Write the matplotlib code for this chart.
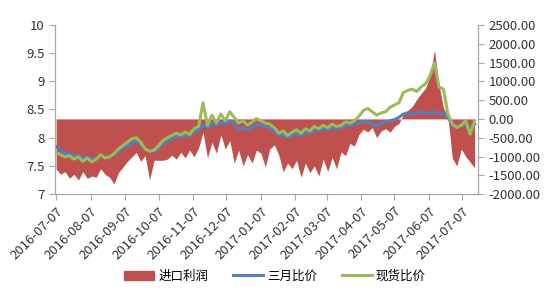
import matplotlib.pyplot as plt
import matplotlib.ticker as mticker
from matplotlib.patches import Patch
from matplotlib.lines import Line2D
import pandas as pd
import numpy as np

plt.rcParams['font.family'] = ['Noto Sans CJK SC', 'DejaVu Sans']

# ---------------- data (one point every 4 days) ----------------
start_date = '2016-07-07'

# 现货比价 (left axis)
spot_ratio = [7.74, 7.70, 7.66, 7.68, 7.62, 7.66, 7.58, 7.64, 7.57, 7.62,
              7.70, 7.64, 7.66, 7.72, 7.80, 7.86, 7.92, 7.98, 8.00, 7.92,
              7.80, 7.76, 7.78, 7.86, 7.95, 8.00, 8.04, 8.08, 8.05, 8.10,
              8.06, 8.16, 8.20, 8.62, 8.22, 8.40, 8.26, 8.42, 8.30, 8.46,
              8.36, 8.26, 8.30, 8.22, 8.28, 8.34, 8.30, 8.26, 8.24, 8.18,
              8.08, 8.12, 8.04, 8.10, 8.14, 8.08, 8.16, 8.12, 8.20, 8.16,
              8.22, 8.18, 8.24, 8.20, 8.22, 8.28, 8.26, 8.30, 8.38, 8.48,
              8.52, 8.46, 8.40, 8.44, 8.46, 8.54, 8.58, 8.62, 8.80, 8.84,
              8.86, 8.82, 8.90, 8.96, 9.10, 9.33, 8.90, 8.86, 8.42, 8.24,
              8.18, 8.22, 8.30, 8.06, 8.30]

# 三月比价 (left axis)
march_ratio = [7.84, 7.78, 7.72, 7.72, 7.68, 7.68, 7.64, 7.66, 7.62, 7.64,
               7.68, 7.66, 7.66, 7.70, 7.76, 7.82, 7.86, 7.92, 7.94, 7.88,
               7.80, 7.76, 7.76, 7.82, 7.90, 7.94, 7.98, 8.02, 8.02, 8.04,
               8.04, 8.10, 8.14, 8.22, 8.18, 8.26, 8.22, 8.28, 8.24, 8.30,
               8.26, 8.14, 8.18, 8.14, 8.18, 8.24, 8.22, 8.20, 8.18, 8.12,
               8.04, 8.06, 8.00, 8.04, 8.08, 8.04, 8.10, 8.08, 8.14, 8.12,
               8.16, 8.14, 8.18, 8.16, 8.18, 8.22, 8.22, 8.24, 8.26, 8.28,
               8.28, 8.26, 8.20, 8.26, 8.28, 8.30, 8.32, 8.36, 8.42, 8.44,
               8.42, 8.44, 8.46, 8.42, 8.44, 8.46, 8.42, 8.44, 8.36, 8.24,
               8.20, 8.22, 8.24, 8.18, 8.24]

# 进口利润 (right axis)
import_profit = [-1325, -1475, -1400, -1580, -1475, -1625, -1400, -1580, -1520, -1550,
                 -1325, -1475, -1550, -1730, -1430, -1280, -1130, -1010, -890, -1130,
                 -980, -1625, -1100, -1100, -1100, -1070, -965, -1070, -890, -1035,
                 -830, -1010, -770, -350, -1035, -615, -915, -425, -800, -575,
                 -1175, -830, -1250, -950, -1175, -830, -915, -1280, -800, -690,
                 -950, -1410, -1175, -1325, -1100, -1550, -1175, -1430, -1250, -1520,
                 -1070, -1400, -1025, -1325, -875, -980, -650, -725, -420, -275,
                 -350, -230, -500, -320, -260, -350, -200, -120, 120, 230,
                 330, 520, 680, 820, 1150, 1830, 900, 300, 60, -1050,
                 -1250, -800, -1000, -1150, -1300]

tick_dates = pd.date_range('2016-07-01', '2017-07-01', freq='MS') + pd.Timedelta(days=6)

red = '#C0504D'
blue = '#4F81BD'
green = '#9BBB59'
grey = '#A6A6A6'

dates = pd.date_range(start_date, periods=len(spot_ratio), freq='4D')

fig = plt.figure(figsize=(5.5, 3.0), dpi=100)
ax = fig.add_axes([0.1, 0.353, 0.769, 0.564])
ax2 = ax.twinx()

ax2.fill_between(dates, 0, import_profit, color=red, linewidth=0)
ax.plot(dates, march_ratio, color=blue, lw=2.2)
ax.plot(dates, spot_ratio, color=green, lw=2.2)

ax.set_zorder(ax2.get_zorder() + 1)
ax.patch.set_visible(False)

ax.set_ylim(7, 10)
ax2.set_ylim(-2000, 2500)
ax.set_xlim(pd.Timestamp('2016-07-06'), pd.Timestamp('2017-07-21'))

ax.set_yticks(np.arange(7, 10.01, 0.5))
ax.yaxis.set_major_formatter(mticker.FuncFormatter(lambda v, p: '{:g}'.format(v)))
ax2.set_yticks(np.arange(-2000, 2501, 500))
ax2.yaxis.set_major_formatter(mticker.FormatStrFormatter('%.2f'))

ax.set_xticks(tick_dates)
ax.set_xticklabels([d.strftime('%Y-%m-%d') for d in tick_dates], rotation=45,
                   ha='right', rotation_mode='anchor')

for a in (ax, ax2):
    for s in a.spines.values():
        s.set_color(grey)
    a.spines['top'].set_visible(False)
    a.tick_params(colors=grey, labelcolor='#333333', labelsize=9.5, length=4, width=0.8)

fig.legend(handles=[Patch(color=red, label='进口利润'),
                    Line2D([], [], color=blue, lw=2.2, label='三月比价'),
                    Line2D([], [], color=green, lw=2.2, label='现货比价')],
           loc='center', bbox_to_anchor=(0.5, 0.08), ncol=3, frameon=False,
           fontsize=9, handlelength=2.4, columnspacing=2.0, handletextpad=0.3)

fig.savefig('out.png', dpi=100)
